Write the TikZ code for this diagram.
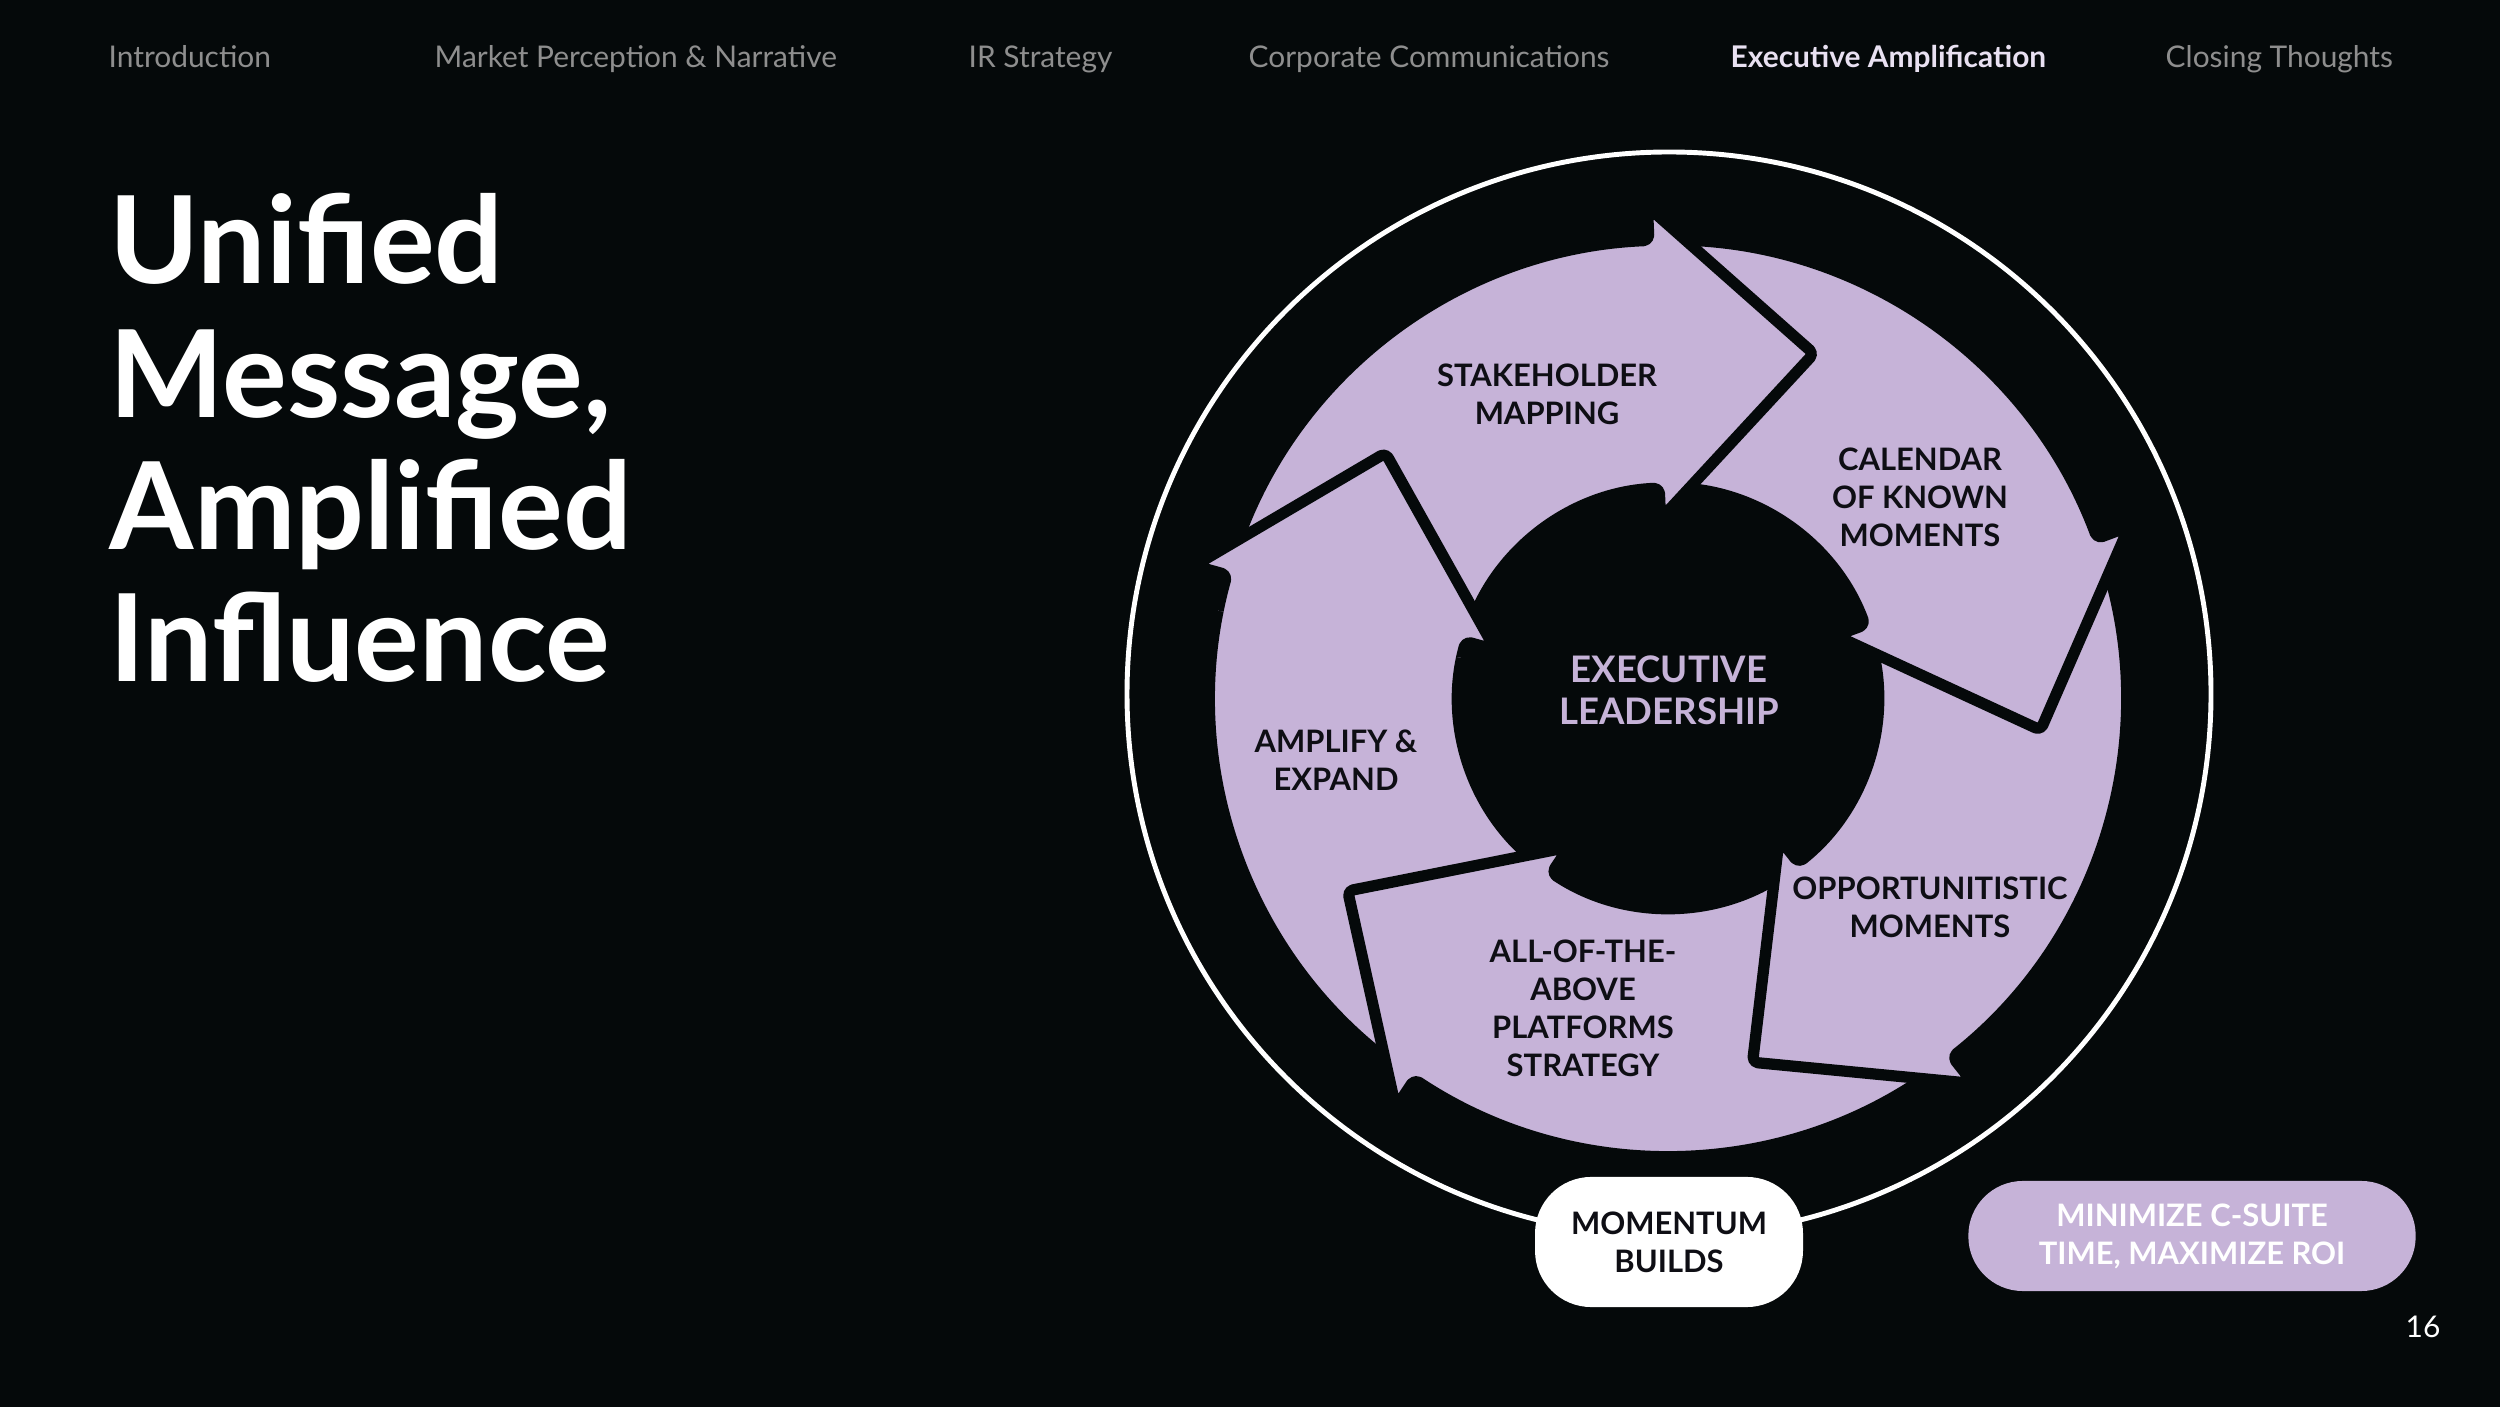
\documentclass[tikz,border=0pt]{standalone}
\usepackage{fontspec}
\setmainfont{Lato}
\definecolor{bg}{HTML}{05090A}
\definecolor{lav}{HTML}{C6B3D8}
\definecolor{navgray}{HTML}{8E8E8E}
\definecolor{navact}{HTML}{E9E1F2}
\definecolor{ink}{HTML}{0E0E14}
\tikzset{
  arrowsty/.style={fill=lav, draw=bg, line width=3.2pt, line join=round, rounded corners=1.5pt},
  lbl/.style={font=\fontsize{8.8}{10.8}\selectfont\bfseries, text=ink, align=center, inner sep=0pt},
  navitem/.style={font=\fontsize{8.5}{10}\selectfont, text=navgray, anchor=base west, inner sep=0pt},
  ttl/.style={font=\fontsize{34.5}{40}\selectfont\bfseries, text=white, anchor=base west, inner sep=0pt},
}
\newcommand{\cycarrow}[1]{%
  \draw[arrowsty, rotate=#1] (0:458) arc[start angle=0, end angle=70.5, radius=458]
    -- (70.5:210) arc[start angle=70.5, end angle=0, radius=210]
    -- (179,0) -- (338,-160) -- (492,0) -- cycle;}
\begin{document}
\begin{tikzpicture}[x=0.01cm, y=-0.01cm]
\fill[bg] (0,0) rectangle (2500,1407);
\useasboundingbox (0,0) rectangle (2500,1407);

% navigation
\node[navitem] (n1) at (108,68) {Introduction};
\node[navitem] (n2) at (434,68) {Market Perception \& Narrative};
\node[navitem] (n3) at (968,68) {IR Strategy};
\node[navitem] (n4) at (1248,68) {Corporate Communications};
\node[navitem, text=navact, font=\fontsize{8.5}{10}\selectfont\bfseries] (n5) at (1730,68) {Executive Amplification};
\node[navitem] (n6) at (2165,68) {Closing Thoughts};

% title
\node[ttl] (t1) at (109,284) {Unified};
\node[ttl] (t2) at (109,418) {Message,};
\node[ttl] (t3) at (109,550) {Amplified};
\node[ttl] (t4) at (109,682) {Influence};

% outer white circle
\draw[white, line width=1.4pt] (1669,694) circle[radius=542];

% cycle arrows
\begin{scope}[shift={(1668,698)}, y=0.01cm]
  \cycarrow{164.4}
  \cycarrow{-123.6}
  \cycarrow{-51.6}
  \cycarrow{20.4}
  \cycarrow{92.4}
  \begin{scope}
    \clip (0,0) -- (133:640) arc[start angle=133, end angle=169, radius=640] -- cycle;
    \cycarrow{164.4}
  \end{scope}
\end{scope}

% labels
\node[lbl] (l1) at (1547,394) {STAKEHOLDER\\MAPPING};
\node[lbl] (l2) at (1920,497) {CALENDAR\\OF KNOWN\\MOMENTS};
\node[lbl] (l3) at (1930,907) {OPPORTUNITISTIC\\MOMENTS};
\node[lbl] (l4) at (1583,1008) {ALL-OF-THE-\\ABOVE\\PLATFORMS\\STRATEGY};
\node[lbl] (l5) at (1336,760) {AMPLIFY \&\\EXPAND};
\node[lbl, text=lav, font=\fontsize{10.4}{12}\selectfont\bfseries] (ctr) at (1669,690) {EXECUTIVE\\LEADERSHIP};

% pills
\node[lbl, fill=white, rounded corners=16pt, minimum width=76.2pt, minimum height=37pt] (mom) at (1669,1242) {MOMENTUM\\BUILDS};
\node[lbl, fill=lav, text=white, rounded corners=15.5pt, minimum width=127.2pt, minimum height=31.3pt] (roi) at (2192,1236) {MINIMIZE C-SUITE\\TIME, MAXIMIZE ROI};

% page number
\node[font=\fontsize{8.5}{10}\selectfont, text=white, inner sep=0pt] (pg) at (2423,1327) {16};
\end{tikzpicture}
\end{document}
